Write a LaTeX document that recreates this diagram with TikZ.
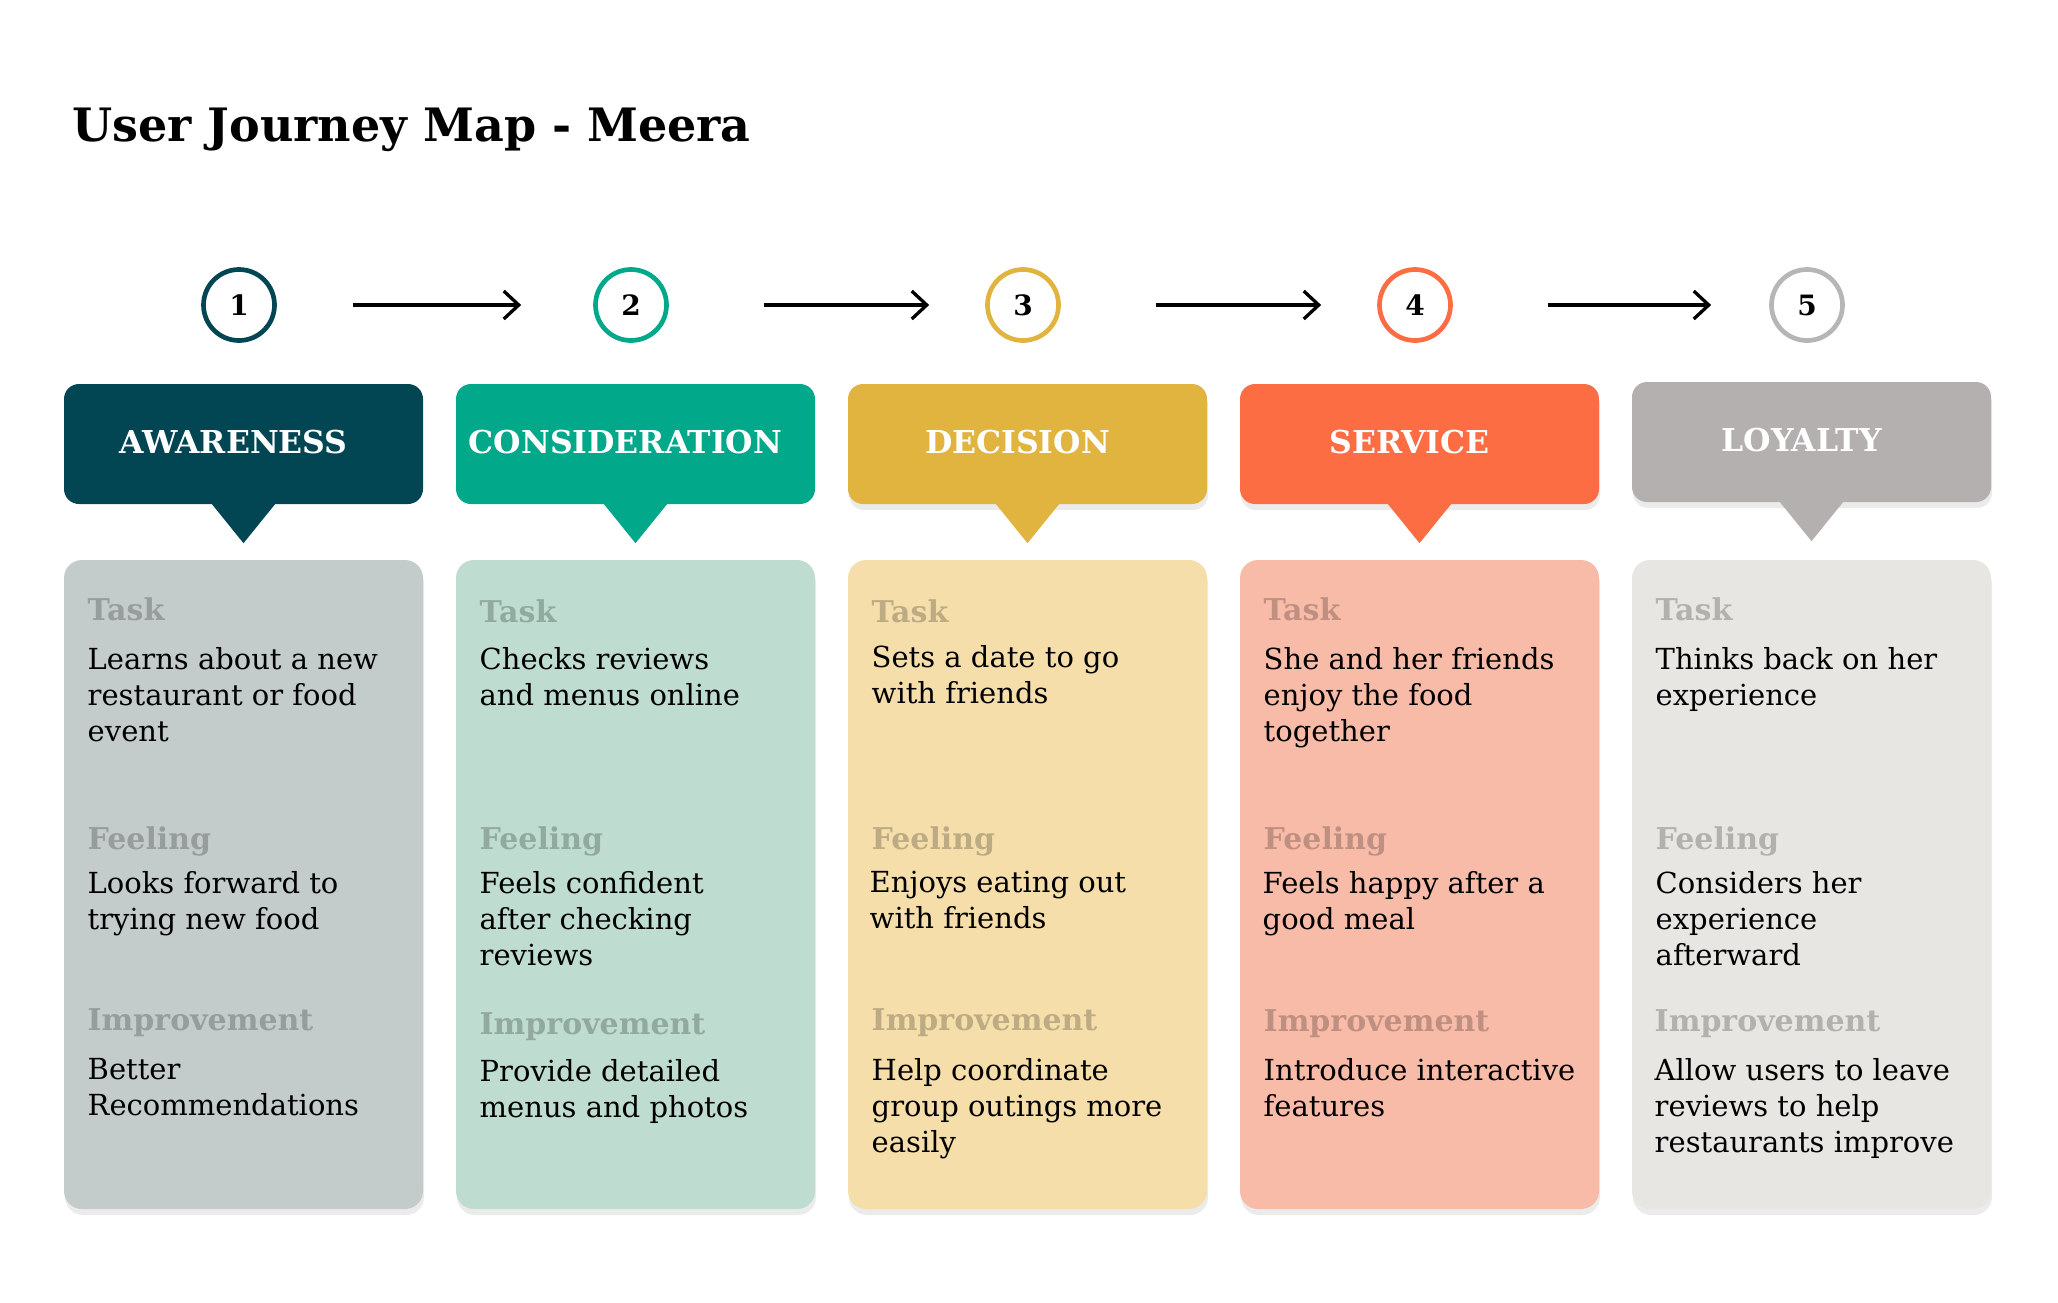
\documentclass[tikz,border=0pt]{standalone}
\usepackage{fontspec}
\setmainfont{DejaVu Serif}
\usepackage{tikz}
\usetikzlibrary{arrows.meta,shadows}
\definecolor{hdA}{HTML}{024654}
\definecolor{hdB}{HTML}{02A88A}
\definecolor{hdC}{HTML}{E1B440}
\definecolor{hdD}{HTML}{FC6D44}
\definecolor{hdE}{HTML}{B4B0AF}
\definecolor{bdA}{HTML}{C3CCCA}
\definecolor{bdB}{HTML}{BEDCD0}
\definecolor{bdC}{HTML}{F6DEAB}
\definecolor{bdD}{HTML}{F8BBA8}
\definecolor{bdE}{HTML}{E7E6E2}
\definecolor{ringE}{HTML}{B8B6B5}

\begin{document}
\begin{tikzpicture}[x=1pt, y=-1pt,
  head/.style={rectangle, rounded corners=15pt, minimum width=359pt, minimum height=120pt, inner sep=0pt},
  lift/.style={drop shadow={shadow xshift=1pt, shadow yshift=-6pt, opacity=0.16}},
  headtxt/.style={anchor=base, inner sep=0pt, text=white, font=\fontsize{31.5}{36}\selectfont\bfseries},
  card/.style={rectangle, rounded corners=18pt, minimum width=359pt, minimum height=649pt, inner sep=0pt, lift},
  ring/.style={circle, line width=4.7pt, minimum size=71pt, inner sep=0pt, font=\fontsize{28}{28}\selectfont\bfseries},
  lbl/.style={anchor=base west, inner sep=0pt, font=\fontsize{30}{35}\selectfont\bfseries},
  txt/.style={anchor=north west, yshift=25.2pt, inner sep=0pt, align=left, execute at begin node=\strut, font=\fontsize{29}{36}\selectfont},
  flow/.style={line width=3.3pt, -{Straight Barb[length=15pt, width=28pt]}}]

  \newcommand\X{392};

  \useasboundingbox (0, 0) rectangle (2058, 1302);

  \node[anchor=base west, inner sep=0pt, font=\fontsize{46}{50}\selectfont\bfseries] (title) at (72, 141) {User Journey Map - Meera};

  % steps
  \node[ring, draw=hdA] (cA) at (239+0*\X, 305) {1};
  \node[ring, draw=hdB] (cB) at (239+1*\X, 305) {2};
  \node[ring, draw=hdC] (cC) at (239+2*\X, 305) {3};
  \node[ring, draw=hdD] (cD) at (239+3*\X, 305) {4};
  \node[ring, draw=ringE] (cE) at (239+4*\X, 305) {5};

  \draw[flow, shorten <=76pt, shorten >=72pt] (cA) -- (cB); %% 1->2
  \draw[flow, shorten <=95pt, shorten >=56pt] (cB) -- (cC); %% 2->3
  \draw[flow, shorten <=95pt, shorten >=56pt] (cC) -- (cD); %% 3->4
  \draw[flow, shorten <=95pt, shorten >=58pt] (cD) -- (cE); %% 4->5

  % phase headers
  \node[head, fill=hdA] (hA) at (243.5+0*\X, 444) {};
  \node[head, fill=hdB] (hB) at (243.5+1*\X, 444) {};
  \node[head, fill=hdC, lift] (hC) at (243.5+2*\X, 444) {};
  \node[head, fill=hdD, lift] (hD) at (243.5+3*\X, 444) {};
  \node[head, fill=hdE, lift] (hE) at (243.5+4*\X, 442) {};

  \fill[hdA] ([xshift=-31.5pt]hA.south) -- ([yshift=-39pt]hA.south) -- ([xshift=31.5pt]hA.south) -- cycle;
  \fill[hdB] ([xshift=-31.5pt]hB.south) -- ([yshift=-39pt]hB.south) -- ([xshift=31.5pt]hB.south) -- cycle;
  \fill[hdC] ([xshift=-31.5pt]hC.south) -- ([yshift=-39pt]hC.south) -- ([xshift=31.5pt]hC.south) -- cycle;
  \fill[hdD] ([xshift=-31.5pt]hD.south) -- ([yshift=-39pt]hD.south) -- ([xshift=31.5pt]hD.south) -- cycle;
  \fill[hdE] ([xshift=-31.5pt]hE.south) -- ([yshift=-39pt]hE.south) -- ([xshift=31.5pt]hE.south) -- cycle;

  \node[headtxt] (tA) at (233.5+0*\X, 453) {AWARENESS};
  \node[headtxt] (tB) at (233.5+1*\X, 453) {CONSIDERATION};
  \node[headtxt] (tC) at (233.5+2*\X, 453) {DECISION};
  \node[headtxt] (tD) at (233.5+3*\X, 453) {SERVICE};
  \node[headtxt] (tE) at (233.5+4*\X, 451) {LOYALTY};

  % cards
  \node[card, fill=bdA] (bA) at (243.5+0*\X, 884.5) {};
  \node[card, fill=bdB] (bB) at (243.5+1*\X, 884.5) {};
  \node[card, fill=bdC] (bC) at (243.5+2*\X, 884.5) {};
  \node[card, fill=bdD] (bD) at (243.5+3*\X, 884.5) {};
  \node[card, fill=bdE] (bE) at (243.5+4*\X, 884.5) {};

  % awareness
  \node[lbl, text=bdA!77!black] (kA1) at (87.5+0*\X, 620) {Task};
  \node[txt] (xA1) at (87.5+0*\X, 672) {Learns about a new\\restaurant or food\\event};
  \node[lbl, text=bdA!77!black] (kA2) at (87.5+0*\X, 849) {Feeling};
  \node[txt] (xA2) at (87.5+0*\X, 896) {Looks forward to\\trying new food};
  \node[lbl, text=bdA!77!black] (kA3) at (87.5+0*\X, 1030) {Improvement};
  \node[txt] (xA3) at (87.5+0*\X, 1083) {Better\\Recommendations};

  % consideration
  \node[lbl, text=bdB!77!black] (kB1) at (87.5+1*\X, 622) {Task};
  \node[txt] (xB1) at (87.5+1*\X, 672) {Checks reviews\\and menus online};
  \node[lbl, text=bdB!77!black] (kB2) at (87.5+1*\X, 849) {Feeling};
  \node[txt] (xB2) at (87.5+1*\X, 896) {Feels confident\\after checking\\reviews};
  \node[lbl, text=bdB!77!black] (kB3) at (87.5+1*\X, 1034) {Improvement};
  \node[txt] (xB3) at (87.5+1*\X, 1084) {Provide detailed\\menus and photos};

  % decision
  \node[lbl, text=bdC!77!black] (kC1) at (87.5+2*\X, 622) {Task};
  \node[txt] (xC1) at (87.5+2*\X, 670) {Sets a date to go\\with friends};
  \node[lbl, text=bdC!77!black] (kC2) at (87.5+2*\X, 849) {Feeling};
  \node[txt] (xC2) at (85.5+2*\X, 896) {Enjoys eating out\\with friends};
  \node[lbl, text=bdC!77!black] (kC3) at (87.5+2*\X, 1030) {Improvement};
  \node[txt] (xC3) at (87.5+2*\X, 1083) {Help coordinate\\group outings more\\easily};

  % service
  \node[lbl, text=bdD!77!black] (kD1) at (87.5+3*\X, 620) {Task};
  \node[txt] (xD1) at (87.5+3*\X, 672) {She and her friends\\enjoy the food\\together};
  \node[lbl, text=bdD!77!black] (kD2) at (87.5+3*\X, 849) {Feeling};
  \node[txt] (xD2) at (86.5+3*\X, 896) {Feels happy after a\\good meal};
  \node[lbl, text=bdD!77!black] (kD3) at (87.5+3*\X, 1031) {Improvement};
  \node[txt] (xD3) at (87.5+3*\X, 1083) {Introduce interactive\\features};

  % loyalty
  \node[lbl, text=bdE!77!black] (kE1) at (87.5+4*\X, 620) {Task};
  \node[txt] (xE1) at (87.5+4*\X, 672) {Thinks back on her\\experience};
  \node[lbl, text=bdE!77!black] (kE2) at (87.5+4*\X, 849) {Feeling};
  \node[txt] (xE2) at (87.5+4*\X, 896) {Considers her\\experience\\afterward};
  \node[lbl, text=bdE!77!black] (kE3) at (86.5+4*\X, 1031) {Improvement};
  \node[txt] (xE3) at (86.5+4*\X, 1083) {Allow users to leave\\reviews to help\\restaurants improve};

\end{tikzpicture}
\end{document}
